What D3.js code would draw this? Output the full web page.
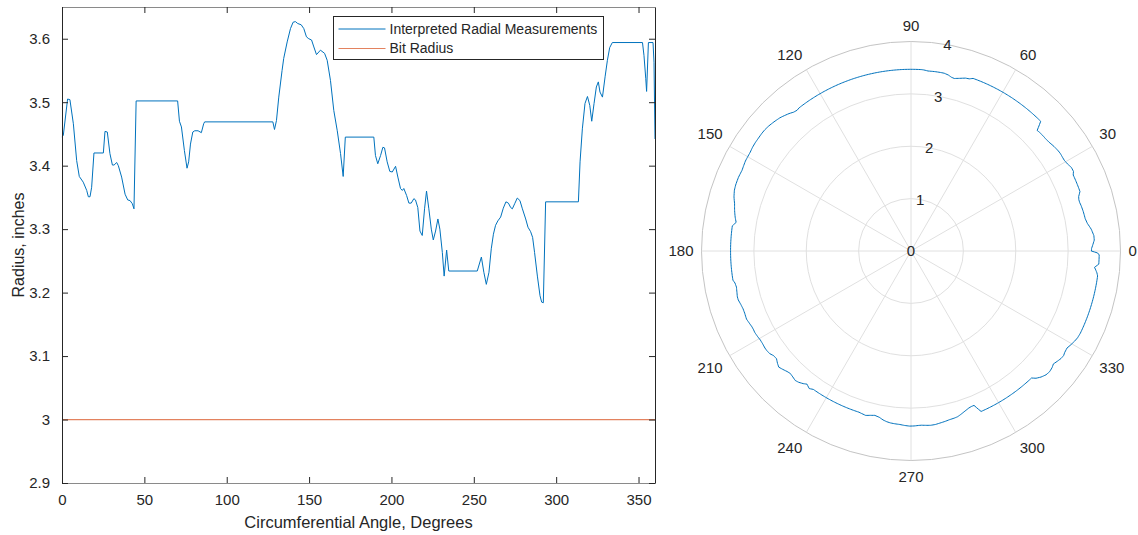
<!DOCTYPE html>
<html>
<head>
<meta charset="utf-8">
<script src="https://cdn.jsdelivr.net/npm/d3@7"></script>
<style>
	body { margin: 0; background: #fff; }
	svg { display: block; font-family: Arial, 'Liberation Sans', Helvetica, sans-serif; }
	text { fill: #262626; }
</style>
</head>
<body>
<svg width="1138" height="535"></svg>
<script>
'use strict';

// Data
const angles = [0, 0.8, 3.4, 4.8, 6.9, 8.9, 10.5, 12.9, 15, 16, 17, 18, 19.4, 25.1, 26.1, 27.5, 29.1, 30.6, 31.6, 33.2, 34.2, 36.2, 38.3, 39.9, 41.3, 42.7, 43.7, 45, 70.2, 71.3, 72.5, 74.3, 75.9, 76.9, 78, 79.4, 80.6, 82.6, 84.6, 86, 86.6, 128, 129, 130.2, 131.6, 133.6, 134.6, 136.7, 138.7, 140.3, 141.7, 143.1, 145.2, 146.8, 148.4, 149.8, 151.5, 152.9, 154.5, 156.9, 159.4, 161, 163, 165, 167.1, 169.1, 170.7, 172, 189.3, 190.3, 191.7, 193.4, 194.8, 195.8, 197.4, 199, 200.5, 202.5, 203.9, 205.5, 206.6, 207.5, 209.2, 210.6, 212, 213.6, 214.6, 216, 217.3, 218.7, 220.1, 221.3, 222.7, 224.2, 225.4, 226.8, 228.2, 229.4, 230.9, 232, 233.5, 234.8, 252.1, 254.6, 256.1, 257.6, 259.2, 260.6, 261.9, 263.2, 264.6, 266.3, 267.9, 269.5, 271, 272.4, 273.4, 274.8, 276.4, 278, 279.5, 281.5, 282.9, 284.5, 285.7, 286.9, 288.6, 290.2, 291.2, 292.2, 293.6, 313.5, 314.5, 315.9, 317.5, 319, 320.4, 321.6, 323, 324.4, 325.6, 326.6, 328.1, 329.7, 331.1, 332.5, 334.1, 352.4, 353.3, 354.4, 354.9, 356, 358.8, 359.4, 360]
const radii = [3.445, 3.448, 3.505, 3.504, 3.466, 3.408, 3.383, 3.374, 3.361, 3.351, 3.351, 3.366, 3.420, 3.420, 3.454, 3.453, 3.419, 3.401, 3.401, 3.405, 3.400, 3.382, 3.355, 3.346, 3.345, 3.340, 3.332, 3.502, 3.502, 3.470, 3.461, 3.424, 3.396, 3.406, 3.434, 3.453, 3.455, 3.455, 3.452, 3.466, 3.469, 3.469, 3.457, 3.471, 3.508, 3.550, 3.569, 3.595, 3.616, 3.626, 3.627, 3.624, 3.622, 3.616, 3.603, 3.600, 3.598, 3.587, 3.575, 3.582, 3.577, 3.566, 3.534, 3.487, 3.455, 3.419, 3.383, 3.445, 3.445, 3.416, 3.403, 3.416, 3.429, 3.428, 3.406, 3.391, 3.390, 3.399, 3.382, 3.364, 3.361, 3.364, 3.353, 3.341, 3.341, 3.348, 3.346, 3.334, 3.297, 3.290, 3.332, 3.360, 3.332, 3.300, 3.283, 3.297, 3.316, 3.300, 3.263, 3.226, 3.267, 3.234, 3.234, 3.256, 3.232, 3.213, 3.232, 3.269, 3.292, 3.306, 3.313, 3.319, 3.333, 3.343, 3.341, 3.334, 3.332, 3.340, 3.349, 3.345, 3.332, 3.316, 3.303, 3.296, 3.287, 3.263, 3.226, 3.195, 3.185, 3.184, 3.343, 3.343, 3.406, 3.458, 3.498, 3.509, 3.495, 3.470, 3.498, 3.524, 3.532, 3.516, 3.508, 3.540, 3.566, 3.586, 3.594, 3.594, 3.574, 3.537, 3.517, 3.594, 3.594, 3.563, 3.442]
const bitRadius = 3
const xTicks = [0, 50, 100, 150, 200, 250, 300, 350]
const yTicks = [2.9, 3, 3.1, 3.2, 3.3, 3.4, 3.5, 3.6]
const rTicks = [1, 2, 3, 4]
const thetaTicks = [0, 30, 60, 90, 120, 150, 180, 210, 240, 270, 300, 330]
const legendLabels = ['Interpreted Radial Measurements', 'Bit Radius']

const BLUE = '#0072BD'
const ORANGE = '#E3825F'
const AXIS = '#262626'

const pts = angles.map((a, i) => ({ a: a, r: radii[i] }))
const svg = d3.select('svg')

// ---------- Cartesian plot ----------
const box = { l: 62, r: 655, t: 7, b: 483 }
const x = d3.scaleLinear().domain([0, 360]).range([box.l, box.r])
const y = d3.scaleLinear().domain([2.9, 3.65]).range([box.b, box.t])

const left = svg.append('g')

// Lines
left.append('path')
	.datum(pts)
	.attr('fill', 'none').attr('stroke', BLUE).attr('stroke-width', 1)
	.attr('d', d3.line().x((d) => x(d.a)).y((d) => y(d.r)))
left.append('path')
	.datum([0, 360])
	.attr('fill', 'none').attr('stroke', ORANGE).attr('stroke-width', 1.2)
	.attr('d', d3.line().x((d) => x(d)).y(() => y(bitRadius)))

// Axes (ticks inward, box on)
const tick = 6
const axBottom = d3.axisBottom(x).tickValues(xTicks).tickSize(-tick).tickSizeOuter(0).tickPadding(11).tickFormat(d3.format('d'))
const axTop = d3.axisTop(x).tickValues(xTicks).tickSize(-tick).tickSizeOuter(0).tickFormat('')
const axLeft = d3.axisLeft(y).tickValues(yTicks).tickSize(-tick).tickSizeOuter(0).tickPadding(12).tickFormat((d) => String(+d.toFixed(1)))
const axRight = d3.axisRight(y).tickValues(yTicks).tickSize(-tick).tickSizeOuter(0).tickFormat('')

function styleAxis(g, col) {
	g.selectAll('.domain').attr('stroke', col)
	g.selectAll('.tick line').attr('stroke', AXIS)
	g.selectAll('.tick text').attr('font-size', 15).attr('fill', '#262626')
		.style('font-family', 'Arial, "Liberation Sans", sans-serif')
}
left.append('g').attr('transform', `translate(0,${box.b})`).call(axBottom).call((g) => styleAxis(g, '#8a8a8a'))
left.append('g').attr('transform', `translate(0,${box.t})`).call(axTop).call((g) => styleAxis(g, '#8a8a8a'))
left.append('g').attr('transform', `translate(${box.l},0)`).call(axLeft).call((g) => styleAxis(g, AXIS))
left.append('g').attr('transform', `translate(${box.r},0)`).call(axRight).call((g) => styleAxis(g, AXIS))

// Axis labels
left.append('text')
	.attr('x', (box.l + box.r) / 2).attr('y', 528)
	.attr('text-anchor', 'middle').attr('font-size', 16.5)
	.text('Circumferential Angle, Degrees')
left.append('text')
	.attr('transform', `translate(24,${(box.t + box.b) / 2}) rotate(-90)`)
	.attr('text-anchor', 'middle').attr('font-size', 16)
	.text('Radius, inches')

// Legend
const lg = left.append('g').attr('transform', 'translate(333.5,16.5)')
lg.append('rect').attr('width', 270).attr('height', 43)
	.attr('fill', '#fff').attr('stroke', AXIS).attr('stroke-width', 1)
legendLabels.forEach((lab, i) => {
	const ly = 12.5 + i * 19.5
	lg.append('line').attr('x1', 5).attr('x2', 52).attr('y1', ly).attr('y2', ly)
		.attr('stroke', i === 0 ? BLUE : ORANGE).attr('stroke-width', i === 0 ? 1 : 1.2)
	lg.append('text').attr('x', 56).attr('y', ly).attr('dy', '0.35em')
		.attr('font-size', 14).text(lab)
})

// ---------- Polar plot ----------
const cx = 911, cy = 251, R = 209.5
const rs = d3.scaleLinear().domain([0, 4]).range([0, R])
const polar = svg.append('g').attr('transform', `translate(${cx},${cy})`)
const rad = (deg) => deg * Math.PI / 180

// Grid circles
rTicks.forEach((t) => {
	polar.append('circle').attr('r', rs(t)).attr('fill', 'none')
		.attr('stroke', t === 4 ? '#c4c4c4' : '#e0e0e0').attr('stroke-width', 1)
})
// Spokes
thetaTicks.forEach((t) => {
	polar.append('line')
		.attr('x1', 0).attr('y1', 0)
		.attr('x2', R * Math.cos(rad(t))).attr('y2', -R * Math.sin(rad(t)))
		.attr('stroke', '#e0e0e0').attr('stroke-width', 1)
})

// Data: straight segments in (theta, r) space become curves on polar axes,
// so each segment is traced in small angular steps when drawn
function polarTrace(data) {
	const out = [data[0]]
	for (let i = 1; i < data.length; i++) {
		const p = data[i - 1], q = data[i]
		const n = Math.max(1, Math.ceil(Math.abs(q.a - p.a) / 0.5))
		for (let k = 1; k <= n; k++) {
			const t = k / n
			out.push({ a: p.a + (q.a - p.a) * t, r: p.r + (q.r - p.r) * t })
		}
	}
	return out
}
polar.append('path')
	.datum(polarTrace(pts))
	.attr('fill', 'none').attr('stroke', BLUE).attr('stroke-width', 1)
	.attr('d', d3.lineRadial().angle((d) => Math.PI / 2 - rad(d.a)).radius((d) => rs(d.r)))

// Theta labels
thetaTicks.forEach((t) => {
	const c = Math.cos(rad(t)), s = Math.sin(rad(t))
	const off = R + 8
	polar.append('text')
		.attr('x', off * c).attr('y', -off * s)
		.attr('text-anchor', c > 0.1 ? 'start' : (c < -0.1 ? 'end' : 'middle'))
		.attr('dy', s > 0.1 ? '-0.2em' : (s < -0.1 ? '0.9em' : '0.35em'))
		.attr('font-size', 15)
		.text(t)
})
// R labels
;[0].concat(rTicks).forEach((t) => {
	const a = rad(80)
	polar.append('text')
		.attr('x', rs(t) * Math.cos(a)).attr('y', -rs(t) * Math.sin(a))
		.attr('text-anchor', 'middle').attr('dy', '0.35em')
		.attr('font-size', 15)
		.text(t)
})
</script>
</body>
</html>
